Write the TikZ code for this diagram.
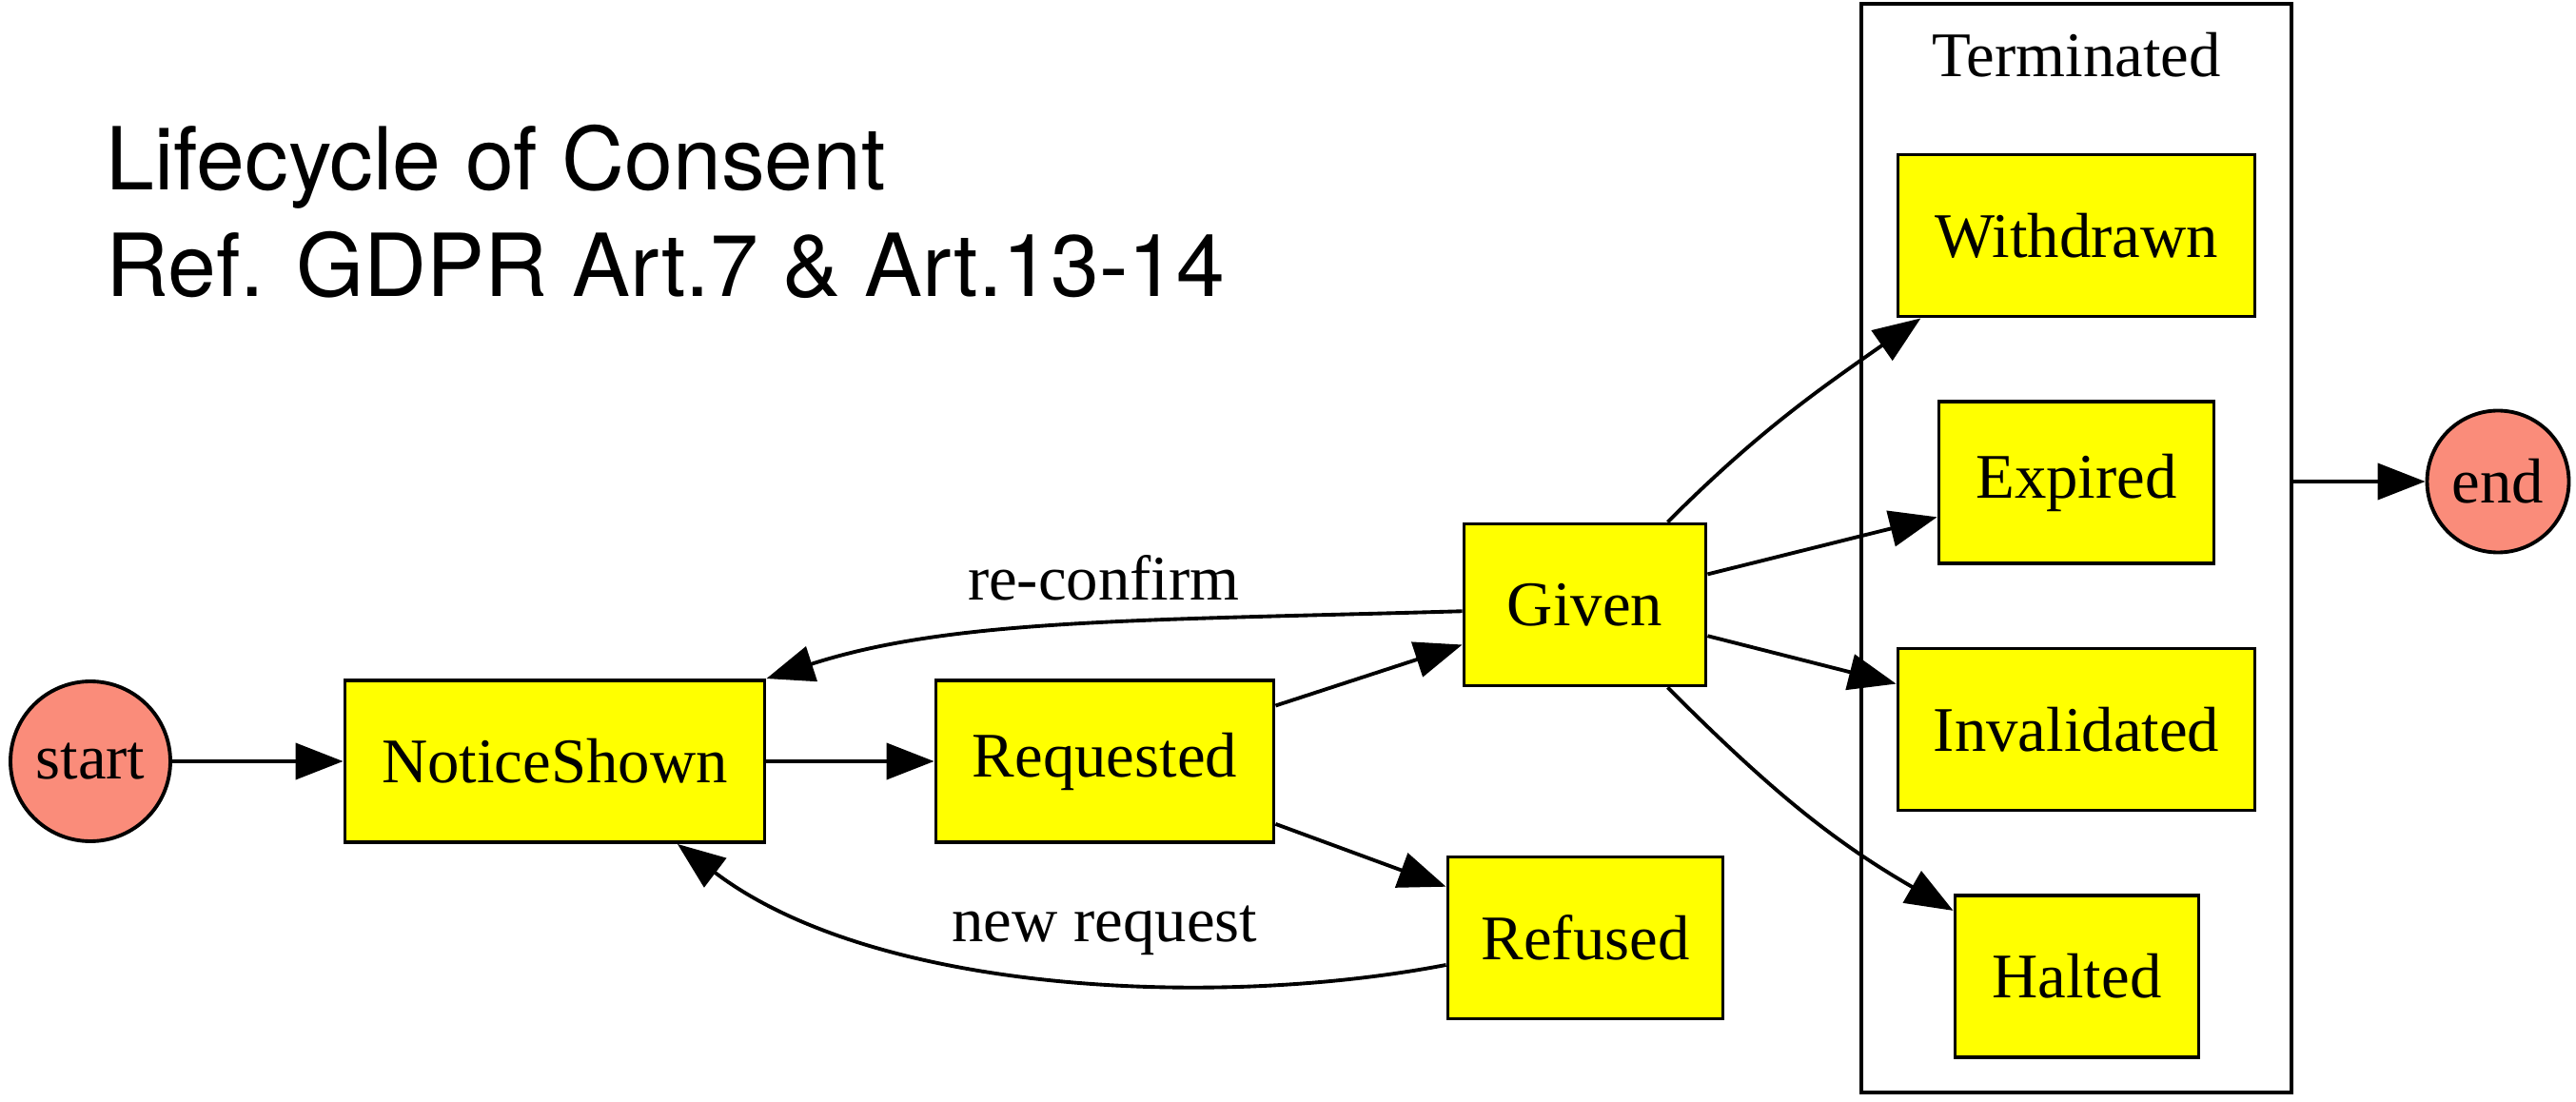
\documentclass[tikz,border=0pt]{standalone}
\usepackage{fontspec}
\setmainfont{Liberation Serif}
\newfontfamily\headfont{TeX Gyre Heros}
\usepackage{tikz}
\usetikzlibrary{positioning,arrows.meta}
\definecolor{salmon}{HTML}{FA8C7A}
\definecolor{stateyellow}{HTML}{FFFF00}

\begin{document}
\begin{tikzpicture}[
  every node/.style={font=\fontsize{19}{23}\selectfont},
  statebox/.style={draw,fill=stateyellow,line width=1.1pt,inner sep=0pt,minimum height=1.70cm},
  pseudo/.style={circle,draw,fill=salmon,line width=1.1pt,inner sep=0pt},
  flow/.style={black,line width=1.1pt,-{Triangle[length=.5cm,width=.38cm]}},
  heading/.style={anchor=base west,font=\headfont\fontsize{26}{31}\selectfont}]
\useasboundingbox (0,0) rectangle (27.07,11.57);

\node[heading] (title) at (0.99,9.57) {Lifecycle of Consent};
\node[heading] (subtitle) at (0.99,8.45) {Ref. GDPR Art.7 \& Art.13-14};

\node[pseudo,minimum size=1.68cm] (start) at (0.95,3.57) {start};
\node[statebox,minimum width=4.41cm] (shown) at (5.83,3.57) {NoticeShown};
\node[statebox,minimum width=3.55cm] (requested) at (11.61,3.57) {Requested};
\node[statebox,minimum width=2.54cm] (given) at (16.655,5.215) {Given};
\node[statebox,minimum width=2.89cm] (refused) at (16.66,1.715) {Refused};

\node[draw,line width=1.1pt,inner sep=0pt,minimum width=4.52cm,minimum height=11.44cm] (terminated) at (21.82,5.81) {};
\node[anchor=base] (termtitle) at (21.82,10.76) {Terminated};
\node[statebox,minimum width=3.75cm] (withdrawn) at (21.82,9.095) {Withdrawn};
\node[statebox,minimum width=2.89cm] (expired) at (21.82,6.50) {Expired};
\node[statebox,minimum width=3.75cm] (invalidated) at (21.82,3.905) {Invalidated};
\node[statebox,minimum width=2.56cm] (halted) at (21.825,1.31) {Halted};

\node[pseudo,minimum size=1.49cm] (end) at (26.25,6.51) {end};

\draw[flow] (start) -- (shown);
\draw[flow] (shown) -- (requested);
\draw[flow] (requested) -- (given);
\draw[flow] (requested) -- (refused);
\draw[flow] (given.183) .. controls (12.00,5.05) and (10.00,5.07) .. node[anchor=base,xshift=.42cm,yshift=.27cm]{re-confirm} (shown.north east);
\draw[flow] (refused.191) .. controls (12.80,0.97) and (9.20,1.12) .. node[anchor=base,xshift=.57cm,yshift=.37cm]{new request} (shown.-34);

\draw[flow] (given.45) to[out=45,in=215] (withdrawn.208);
\draw[flow] (given) -- (expired);
\draw[flow] (given) -- (invalidated);
\draw[flow] (given.-45) to[out=-45,in=150] (halted.152);
\draw[flow] (terminated.east |- end) -- (end);
\end{tikzpicture}
\end{document}
